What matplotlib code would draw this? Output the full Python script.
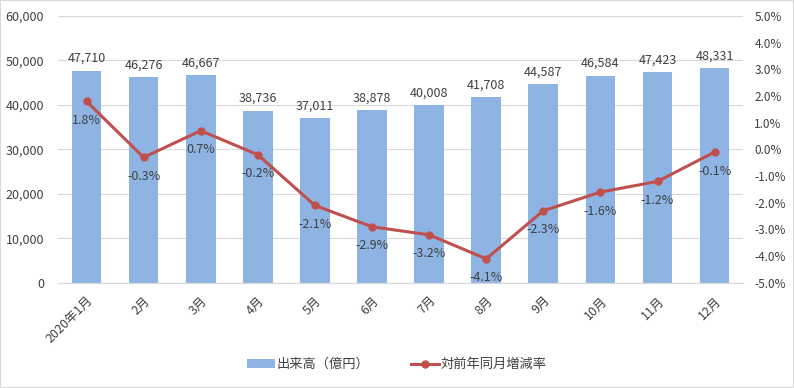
import numpy as np
import matplotlib.pyplot as plt
from matplotlib.patches import Rectangle

plt.rcParams['font.family'] = ['Noto Sans CJK JP', 'DejaVu Sans']

months = ["2020年1月", "2月", "3月", "4月", "5月", "6月",
          "7月", "8月", "9月", "10月", "11月", "12月"]
volume = [47710, 46276, 46667, 38736, 37011, 38878,
          40008, 41708, 44587, 46584, 47423, 48331]
yoy = [1.8, -0.3, 0.7, -0.2, -2.1, -2.9, -3.2, -4.1, -2.3, -1.6, -1.2, -0.1]

bar_color = "#8EB4E3"
line_color = "#C0504D"
text_color = "#404040"

fig = plt.figure(figsize=(7.94, 3.88), dpi=100)
ax = fig.add_axes([0.073, 0.271, 0.863, 0.688])
ax2 = ax.twinx()

x = np.arange(len(months))
bars = ax.bar(x, volume, width=0.52, color=bar_color, zorder=2, label="出来高（億円）")
ax.set_ylim(0, 60000)
ax.set_yticks(np.arange(0, 60001, 10000))
ax.set_yticklabels([f"{v:,}" for v in range(0, 60001, 10000)])
ax.set_xlim(-0.5, len(months) - 0.5)
ax.set_xticks(x)
ax.set_xticklabels(months, rotation=45, ha="right", rotation_mode="anchor")
ax.grid(axis="y", color="#D9D9D9", linewidth=0.8, zorder=0)
ax.set_axisbelow(True)

for xi, v in zip(x, volume):
    ax.annotate(f"{v:,}", (xi, v), xytext=(0, 4), textcoords="offset points",
                ha="center", va="bottom", fontsize=9, color=text_color)

ax2.plot(x, yoy, color=line_color, linewidth=2.2, marker="o", markersize=5,
         zorder=3, label="対前年同月増減率")
ax2.set_ylim(-5, 5)
ax2.set_yticks(np.arange(-5, 5.01, 1))
ax2.set_yticklabels([f"{v:.1f}%" for v in np.arange(-5, 5.01, 1)])

for xi, v in zip(x, yoy):
    ax2.annotate(f"{v:.1f}%", (xi, v), xytext=(0, -9), textcoords="offset points",
                 ha="center", va="top", fontsize=9, color=text_color)

for a in (ax, ax2):
    for s in ("top", "left", "right"):
        a.spines[s].set_visible(False)
    a.spines["bottom"].set_color("#D9D9D9")
    a.tick_params(length=0, labelsize=9, colors=text_color)
ax.tick_params(axis="x", pad=8)
ax.tick_params(axis="y", pad=10)
ax2.tick_params(axis="y", pad=8, labelsize=8.5)

h1, l1 = ax.get_legend_handles_labels()
h2, l2 = ax2.get_legend_handles_labels()
fig.legend(h1 + h2, l1 + l2, loc="center", bbox_to_anchor=(0.5, 0.06), ncol=2,
           frameon=False, fontsize=9.5, handlelength=2.1, columnspacing=3.2,
           labelcolor=text_color, handletextpad=0.1)

fig.patches.append(Rectangle((0, 0), 1, 1, transform=fig.transFigure, fill=False,
                             edgecolor="#D9D9D9", linewidth=1.5))

fig.savefig("out.png", dpi=100)
